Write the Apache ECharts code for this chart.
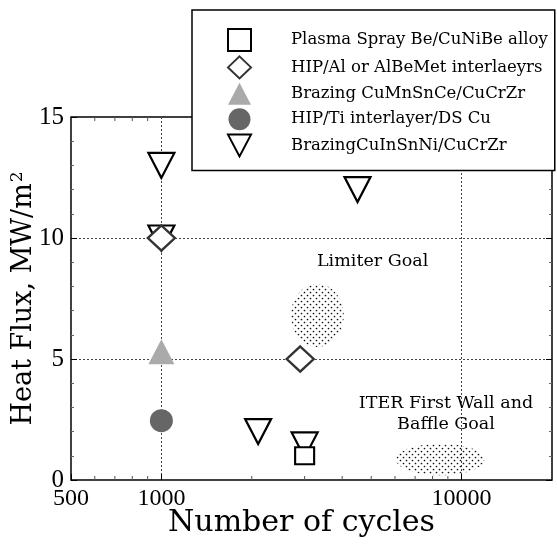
<!DOCTYPE html>
<html>
<head>
<meta charset="utf-8">
<script src="https://cdn.jsdelivr.net/npm/echarts@6/dist/echarts.min.js"></script>
<style>html,body{margin:0;padding:0;background:#fff}#c{width:557px;height:548px}</style>
</head>
<body>
<div id="c"></div>
<script>
// ---- data ----
var seriesNames = ['Plasma Spray Be/CuNiBe alloy', 'HIP/Al or AlBeMet interlaeyrs', 'Brazing CuMnSnCe/CuCrZr', 'HIP/Ti interlayer/DS Cu', 'BrazingCuInSnNi/CuCrZr'];
var plasmaSpray = [[3000, 1.0]];
var hipAl = [[1000, 10.0], [2900, 5.0]];
var brazingCuMn = [[1000, 5.3]];
var hipTi = [[1000, 2.45]];
var brazingCuIn = [[1000, 13.0], [1000, 10.0], [2100, 2.0], [3000, 1.45], [4500, 12.0]];
// goal regions: [xLeft, xRight, yBottom, yTop]
var goalRegions = [[2700, 4050, 5.5, 8.1], [6050, 11900, 0.2, 1.5]];
var xMinorTicks = [600, 700, 800, 900, 2000, 3000, 4000, 5000, 6000, 7000, 8000, 9000];
var xTickLabels = [500, 1000, 10000];
var yTicks = [0, 5, 10, 15];

var SERIF = '"DejaVu Serif", serif';
var NUMF = '"Liberation Serif", serif';

// dot pattern
var pc = document.createElement('canvas');
pc.width = 6; pc.height = 6;
var pctx = pc.getContext('2d');
pctx.fillStyle = '#111';
pctx.beginPath(); pctx.arc(1.5, 1.5, 0.85, 0, Math.PI * 2); pctx.fill();
pctx.beginPath(); pctx.arc(4.5, 4.5, 0.85, 0, Math.PI * 2); pctx.fill();
var dotPattern = { image: pc, repeat: 'repeat' };

var chart = echarts.init(document.getElementById('c'), null, { renderer: 'canvas' });

var gridLine = { show: true, lineStyle: { color: '#444', width: 1, type: [2, 2] } };
var downTri = 'path://M0,0 L20,0 L10,19 Z';

var option = {
  animation: false,
  backgroundColor: '#fff',
  grid: { left: 71, right: 5, top: 117, bottom: 68, outerBoundsMode: 'none', containLabel: false, show: true, borderColor: '#000', borderWidth: 1.5, backgroundColor: 'transparent' },
  legend: {
    data: [
      { name: seriesNames[0] },
      { name: seriesNames[1] },
      { name: seriesNames[2] },
      { name: seriesNames[3] },
      { name: seriesNames[4], icon: downTri }
    ],
    orient: 'vertical',
    left: 192, top: 10,
    padding: [18, 7, 13, 35],
    itemGap: 3.4,
    itemWidth: 23, itemHeight: 22,
    backgroundColor: '#fff',
    borderColor: '#000', borderWidth: 1.5,
    textStyle: { fontFamily: SERIF, fontSize: 16.5, color: '#000', padding: [0, 0, 0, 35] },
    z: 10
  },
  xAxis: {
    type: 'log', logBase: 10, min: 500, max: 20000,
    name: 'Number of cycles', nameLocation: 'middle', nameGap: 28, nameMoveOverlap: false,
    nameTextStyle: { fontFamily: SERIF, fontSize: 30, color: '#000', padding: [0, 20, 0, 0] },
    axisLine: { show: false },
    axisTick: { show: true, inside: true, length: 6, lineStyle: { color: '#000' } },
    axisLabel: {
      fontFamily: NUMF, fontSize: 24, color: '#000', margin: 7, showMaxLabel: false,
      formatter: function (v) {
        var r = Math.round(v);
        return xTickLabels.indexOf(r) >= 0 ? String(r) : '';
      }
    },
    splitLine: gridLine
  },
  yAxis: [{
    type: 'value', min: 0, max: 15, interval: 5,
    name: '{a|Heat Flux, MW/m}{s|2}', nameLocation: 'middle', nameGap: 33, nameMoveOverlap: false,
    nameTextStyle: { fontFamily: SERIF, fontSize: 27, color: '#000',
      rich: { a: { fontFamily: SERIF, fontSize: 27, color: '#000' }, s: { fontFamily: SERIF, fontSize: 17, color: '#000', verticalAlign: 'top', padding: [0, 0, 12, 1] } } },
    axisLine: { show: false },
    axisTick: { show: true, inside: true, length: 6, lineStyle: { color: '#000' } },
    minorTick: { show: true, splitNumber: 5, length: 3, lineStyle: { color: '#666' } },
    axisLabel: { fontFamily: NUMF, fontSize: 25, color: '#000', margin: 7,
      formatter: function (v) { return yTicks.indexOf(v) >= 0 ? String(v) : ''; } },
    splitLine: gridLine
  }, {
    type: 'value', min: 0, max: 15, interval: 5, position: 'right',
    axisLine: { show: false },
    axisTick: { show: true, inside: true, length: 6, lineStyle: { color: '#000' } },
    minorTick: { show: true, splitNumber: 5, length: 3, lineStyle: { color: '#666' } },
    axisLabel: { show: false },
    splitLine: { show: false }
  }],
  graphic: [
    { type: 'text', left: 317, top: 252, z: 5, style: { text: 'Limiter Goal', font: '17.5px ' + SERIF, fill: '#000' } },
    { type: 'text', x: 446, y: 414, z: 5, style: { text: 'ITER First Wall and\nBaffle Goal', font: '17.5px ' + SERIF, fill: '#000', align: 'center', verticalAlign: 'middle', lineHeight: 21 } }
  ],
  series: [
    {
      type: 'custom', name: 'goals', z: 1, silent: true,
      encode: { x: [0, 1], y: [2, 3] },
      data: goalRegions,
      renderItem: function (params, api) {
        var p1 = api.coord([api.value(0), api.value(2)]);
        var p2 = api.coord([api.value(1), api.value(3)]);
        return {
          type: 'ellipse',
          shape: { cx: (p1[0] + p2[0]) / 2, cy: (p1[1] + p2[1]) / 2, rx: Math.abs(p2[0] - p1[0]) / 2, ry: Math.abs(p2[1] - p1[1]) / 2 },
          style: { fill: dotPattern, stroke: null }
        };
      }
    },
    {
      type: 'custom', name: 'minorTicks', z: 3, silent: true,
      encode: { x: 0, y: 1 },
      data: xMinorTicks.map(function (v) { return [v, 0]; }),
      renderItem: function (params, api) {
        var x = api.coord([api.value(0), 0])[0];
        var cs = params.coordSys;
        var b = cs.y + cs.height;
        return {
          type: 'group', children: [
            { type: 'line', shape: { x1: x, y1: b, x2: x, y2: b - 4 }, style: { stroke: '#555', lineWidth: 1 } },
            { type: 'line', shape: { x1: x, y1: cs.y, x2: x, y2: cs.y + 4 }, style: { stroke: '#555', lineWidth: 1 } }
          ]
        };
      }
    },
    {
      type: 'scatter', name: seriesNames[4], data: brazingCuIn, z: 2,
      symbol: 'triangle', symbolRotate: 180, symbolSize: [26, 25],
      itemStyle: { color: '#fff', borderColor: '#000', borderWidth: 2.2, opacity: 1 }
    },
    {
      type: 'scatter', name: seriesNames[0], data: plasmaSpray, z: 4,
      symbol: 'rect', symbolSize: [19, 17],
      itemStyle: { color: '#fff', borderColor: '#000', borderWidth: 2, opacity: 1 }
    },
    {
      type: 'scatter', name: seriesNames[1], data: hipAl, z: 4,
      symbol: 'diamond', symbolSize: [27, 25],
      itemStyle: { color: '#fff', borderColor: '#333', borderWidth: 2.4, opacity: 1 }
    },
    {
      type: 'scatter', name: seriesNames[2], data: brazingCuMn, z: 4,
      symbol: 'triangle', symbolSize: [26, 25],
      itemStyle: { color: '#aaa', borderWidth: 0, opacity: 1 }
    },
    {
      type: 'scatter', name: seriesNames[3], data: hipTi, z: 4,
      symbol: 'circle', symbolSize: 23,
      itemStyle: { color: '#666', borderWidth: 0, opacity: 1 }
    }
  ]
};
chart.setOption(option);
</script>
</body>
</html>
